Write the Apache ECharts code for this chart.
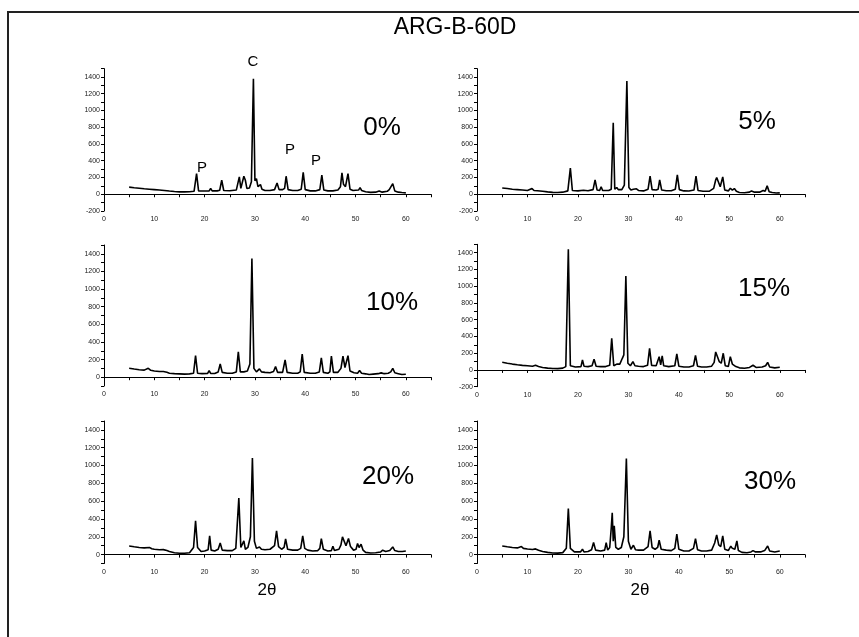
<!DOCTYPE html>
<html>
<head>
<meta charset="utf-8">
<title>ARG-B-60D</title>
<script src="https://cdn.jsdelivr.net/npm/echarts@6/dist/echarts.min.js"></script>
<style>
  html, body { margin: 0; padding: 0; background: #fff; }
  #chart { width: 859px; height: 637px; }
</style>
</head>
<body>
<div id="chart"></div>
<script>
// diffractograms: [2theta, intensity]
const xrd0 = [[5,85],[6,78],[7,72],[8,65],[9,60],[10,55],[11,50],[12,45],[13,38],[14,32],[15,28],[16,28],[17,30],[17.9,35],[18.4,247],[18.8,40],[20,38],[20.9,40],[21.2,68],[21.5,40],[22.5,40],[23,48],[23.4,167],[23.8,45],[25,42],[26.3,50],[26.6,70],[26.9,207],[27.2,70],[27.5,80],[27.8,215],[28.1,167],[28.4,70],[28.9,75],[29.3,150],[29.7,1380],[30,160],[30.3,187],[30.6,90],[30.9,70],[31.1,115],[31.4,60],[32,45],[33,45],[33.9,55],[34.4,135],[34.8,55],[35.5,55],[35.9,70],[36.2,215],[36.6,55],[37.5,45],[38.5,45],[39.2,60],[39.6,262],[40,55],[41,40],[42,40],[42.9,55],[43.3,227],[43.7,50],[44.5,40],[45.5,40],[46.5,50],[47,90],[47.3,255],[47.6,120],[48,90],[48.5,247],[48.9,60],[49.5,45],[50.6,50],[50.9,80],[51.2,45],[52,30],[53,22],[54,25],[54.7,40],[55.3,25],[56.3,35],[56.7,56],[57,45],[57.4,127],[57.8,40],[58.5,25],[59.2,20],[60,16]]
const xrd5 = [[5,75],[6,68],[7,60],[8,55],[9,50],[10,45],[10.9,68],[11.3,45],[12,42],[13,35],[14,28],[15,22],[16,20],[17,25],[18,40],[18.5,312],[18.9,45],[20,40],[21.1,48],[22,42],[23,55],[23.4,172],[23.8,50],[24.3,45],[24.6,88],[24.9,45],[25.5,45],[25.8,60],[26.1,45],[26.6,60],[27,852],[27.3,60],[27.7,80],[28,55],[28.3,75],[28.7,55],[29.2,110],[29.7,1352],[30.1,80],[30.5,50],[31,60],[31.3,50],[31.6,65],[32,45],[33,40],[33.9,60],[34.3,216],[34.7,55],[35.5,50],[35.9,60],[36.2,172],[36.6,50],[37.5,42],[38.5,42],[39.3,60],[39.7,232],[40.1,55],[41,40],[42,38],[43,50],[43.4,216],[43.8,45],[44.8,35],[46,35],[46.9,70],[47.3,170],[47.5,200],[47.8,212],[48.2,90],[48.7,208],[49.1,50],[49.8,40],[50.2,72],[50.6,50],[51,68],[51.4,35],[52,20],[53,18],[54,25],[54.4,40],[55,25],[56,25],[56.7,45],[57.1,35],[57.5,100],[57.9,30],[58.5,20],[59.3,15],[60,16]]
const xrd10 = [[5,101],[6,92],[7,85],[8,80],[8.8,101],[9.3,78],[10,70],[11,65],[11.8,64],[12.5,55],[13,45],[14,40],[15,38],[16,35],[17,38],[17.8,45],[18.2,244],[18.6,45],[19.5,40],[20.6,42],[20.9,75],[21.2,42],[22,42],[22.7,60],[23.1,150],[23.5,55],[24.5,45],[25.5,45],[26.3,60],[26.7,289],[27.1,60],[27.8,60],[28.5,70],[29,150],[29.4,1347],[29.8,100],[30.3,60],[30.9,94],[31.3,60],[32,55],[33,50],[33.7,65],[34.1,120],[34.5,55],[35.5,55],[35.7,70],[36,195],[36.4,55],[37.5,45],[38.5,45],[39,60],[39.4,263],[39.8,55],[41,45],[42,45],[42.8,60],[43.2,218],[43.6,55],[44.5,45],[44.9,60],[45.2,240],[45.6,55],[46.5,55],[47.1,100],[47.5,240],[47.9,110],[48.2,100],[48.5,244],[48.9,70],[49.7,50],[50.4,45],[50.8,75],[51.2,45],[52,38],[52.7,30],[53.5,35],[54.5,40],[55.1,49],[55.7,40],[56.5,45],[57,60],[57.4,101],[57.8,50],[58.5,40],[59.2,30],[60,34]]
const xrd15 = [[5,91],[6,80],[7,70],[8,62],[9,55],[10,50],[11,45],[11.6,55],[12.2,42],[13,30],[14,22],[15,18],[16,16],[17,22],[17.6,40],[18.1,1440],[18.5,50],[19.5,35],[20.6,40],[20.9,119],[21.2,45],[22,40],[22.8,50],[23.2,127],[23.6,45],[24.5,40],[25.5,40],[26.3,55],[26.7,378],[27.1,50],[27.7,70],[28,91],[28.3,70],[28.8,139],[29.1,180],[29.5,1121],[29.9,80],[30.4,50],[30.9,99],[31.3,50],[32,45],[33,40],[33.8,55],[34.2,258],[34.6,55],[35.5,50],[35.8,70],[36.1,159],[36.4,60],[36.7,167],[37,50],[38,40],[39.2,50],[39.6,191],[40,45],[41,35],[42,35],[42.9,50],[43.3,175],[43.7,45],[44.5,35],[45.5,35],[46.5,45],[47,90],[47.3,215],[47.6,215],[48,100],[48.4,80],[48.8,199],[49.2,50],[49.8,40],[50.2,159],[50.6,70],[50.9,91],[51.3,40],[52,25],[53,20],[54,30],[54.7,56],[55.3,30],[56.5,35],[57.2,50],[57.6,91],[58,35],[59,25],[60,32]]
const xrd20 = [[5,97],[6,88],[7,80],[8,75],[9.1,79],[9.5,65],[10,60],[11,55],[11.8,56],[12.5,45],[13,35],[14,20],[15,15],[16,15],[17,20],[17.8,80],[18.2,379],[18.6,80],[19.3,35],[20,40],[20.7,55],[21,210],[21.3,50],[22,40],[22.7,60],[23.1,131],[23.5,50],[24.5,45],[25.5,45],[26.2,70],[26.8,634],[27.2,80],[27.5,60],[27.8,154],[28.1,60],[28.6,80],[29.1,200],[29.5,1084],[29.9,150],[30.3,70],[30.9,86],[31.3,60],[32,55],[33,60],[33.9,100],[34.3,266],[34.7,90],[35.3,60],[35.8,80],[36.1,176],[36.5,60],[37.5,50],[38.5,50],[39.1,70],[39.5,210],[39.9,70],[40.5,50],[41.5,40],[42.5,45],[42.9,70],[43.2,180],[43.6,60],[44.5,40],[45.2,45],[45.5,94],[45.8,45],[46.7,60],[47.1,110],[47.4,199],[47.7,200],[48.1,100],[48.6,180],[49,90],[49.6,50],[50.1,60],[50.4,124],[50.7,80],[51.1,116],[51.5,50],[52,25],[53,18],[54,20],[55,30],[55.4,49],[56,35],[56.8,45],[57.4,86],[57.8,45],[58.5,35],[59.3,35],[60,41]]
const xrd30 = [[5,97],[6,88],[7,80],[8,75],[8.8,90],[9.2,70],[10,62],[11,58],[11.6,64],[12.2,50],[13,35],[14,25],[15,18],[16,16],[17,22],[17.7,70],[18.1,518],[18.5,70],[19.3,30],[20.5,30],[20.9,60],[21.2,30],[22,35],[22.7,55],[23.1,135],[23.5,50],[24.5,40],[25.3,50],[25.6,135],[25.9,50],[26.3,80],[26.6,296],[26.8,469],[27,150],[27.2,322],[27.5,80],[28,60],[28.6,80],[29.1,200],[29.6,1080],[30,150],[30.5,60],[31,105],[31.4,55],[32,50],[33,50],[33.9,90],[34.3,266],[34.7,80],[35.3,60],[35.8,80],[36.1,161],[36.5,60],[37.5,50],[38.5,45],[39.2,70],[39.6,229],[40,60],[41,40],[42,40],[42.9,70],[43.3,180],[43.7,55],[44.5,40],[45.5,40],[46.5,50],[47.1,130],[47.5,221],[47.9,110],[48.3,90],[48.7,210],[49.1,60],[49.8,45],[50.3,95],[50.6,70],[50.8,90],[51.1,60],[51.5,154],[51.8,45],[52.5,25],[53.5,20],[54.3,30],[54.7,45],[55.2,30],[56.2,30],[57,45],[57.6,97],[58,40],[59,30],[60,41]]

const panelNames = ['0%', '5%', '10%', '15%', '20%', '30%']
const panelData = [xrd0, xrd5, xrd10, xrd15, xrd20, xrd30]
const yMins = [-200, -200, -100, -200, -100, -100]
const xMax = 65
const yMax = 1500

// panel boxes in px: left, top, width, height
const boxes = [
  [104, 68.6, 327, 142.4],
  [477, 68.6, 328, 142.4],
  [104, 245, 327, 141],
  [477, 244.3, 328, 142.4],
  [104, 421, 327, 142.5],
  [477, 421, 328, 142.5]
]
const namePos = [[382, 128], [757, 122], [392, 303], [764, 289], [388, 477], [770, 482]]

const font = '"Liberation Sans", Arial, sans-serif'

const mychart = echarts.init(document.getElementById('chart'))

const grid = []
const xAxis = []
const yAxis = []
const series = []
for (let i = 0; i < panelData.length; i++) {
  const b = boxes[i]
  grid.push({ left: b[0], top: b[1], width: b[2], height: b[3], containLabel: false, outerBoundsMode: 'none' })
  xAxis.push({
    type: 'value',
    gridIndex: i,
    min: 0,
    max: xMax,
    interval: 5,
    axisLine: { lineStyle: { color: '#000', width: 1 } },
    axisTick: { length: 3, lineStyle: { color: '#000' } },
    axisLabel: {
      fontSize: 7,
      color: '#222',
      fontFamily: font,
      margin: 5,
      formatter: (v) => (v % 10 === 0 && v <= 60 ? String(v) : '')
    },
    splitLine: { show: false }
  })
  yAxis.push({
    type: 'value',
    gridIndex: i,
    min: yMins[i],
    max: yMax,
    interval: 100,
    axisLine: { show: true, lineStyle: { color: '#000', width: 1 } },
    axisTick: { show: true, length: 3, lineStyle: { color: '#000' } },
    axisLabel: {
      fontSize: 7,
      color: '#222',
      fontFamily: font,
      margin: 4,
      formatter: (v) => (v % 200 === 0 && v <= 1400 ? String(v) : '')
    },
    splitLine: { show: false }
  })
  series.push({
    type: 'line',
    xAxisIndex: i,
    yAxisIndex: i,
    data: panelData[i],
    showSymbol: false,
    silent: true,
    lineStyle: { color: '#000', width: 1.6 }
  })
}

const graphic = [
  { type: 'rect', shape: { x: 8, y: 12, width: 900, height: 700 }, style: { fill: 'none', stroke: '#222', lineWidth: 2 } },
  { type: 'text', x: 455, y: 28, style: { text: 'ARG-B-60D', font: '23px ' + font, fill: '#000', align: 'center', verticalAlign: 'middle' } },
  { type: 'text', x: 253, y: 62, style: { text: 'C', font: '15px ' + font, fill: '#000', align: 'center', verticalAlign: 'middle' } },
  { type: 'text', x: 202, y: 168, style: { text: 'P', font: '15px ' + font, fill: '#000', align: 'center', verticalAlign: 'middle' } },
  { type: 'text', x: 290, y: 150, style: { text: 'P', font: '15px ' + font, fill: '#000', align: 'center', verticalAlign: 'middle' } },
  { type: 'text', x: 316, y: 161, style: { text: 'P', font: '15px ' + font, fill: '#000', align: 'center', verticalAlign: 'middle' } },
  { type: 'text', x: 267, y: 590, style: { text: '2θ', font: '17px ' + font, fill: '#000', align: 'center', verticalAlign: 'middle' } },
  { type: 'text', x: 640, y: 590, style: { text: '2θ', font: '17px ' + font, fill: '#000', align: 'center', verticalAlign: 'middle' } }
]
panelNames.forEach((name, i) => {
  graphic.push({ type: 'text', x: namePos[i][0], y: namePos[i][1], style: { text: name, font: '26px ' + font, fill: '#000', align: 'center', verticalAlign: 'middle' } })
})

mychart.setOption({
  animation: false,
  backgroundColor: '#fff',
  grid,
  xAxis,
  yAxis,
  series,
  graphic
})
</script>
</body>
</html>
